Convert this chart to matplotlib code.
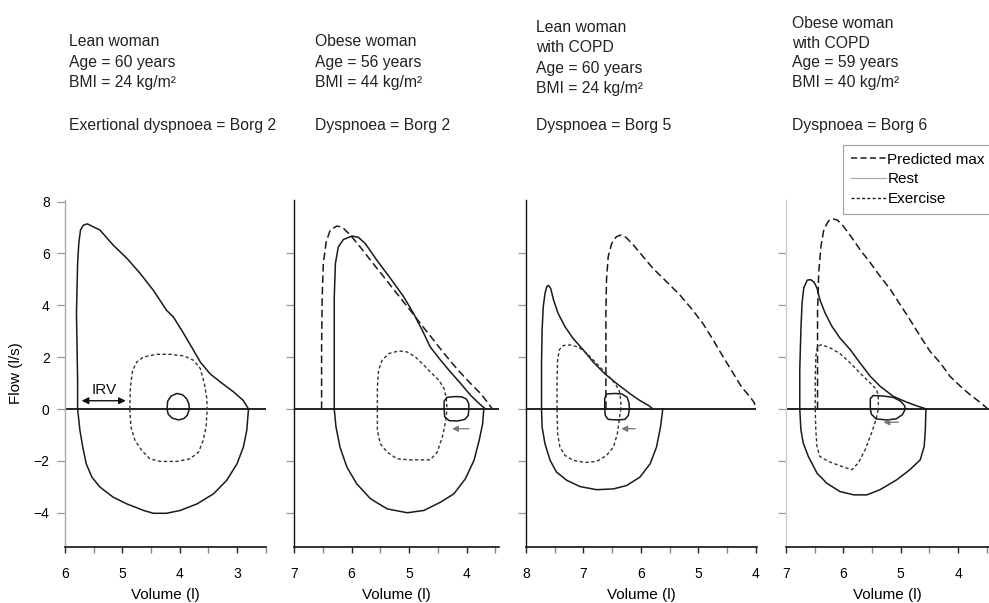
import matplotlib
matplotlib.use('Agg')
import matplotlib.pyplot as plt
from matplotlib.lines import Line2D
import numpy as np

plt.rcParams['font.family'] = ['Liberation Sans', 'DejaVu Sans']

# ---------------- data (volume l, flow l/s) ----------------
# panel 1 - lean woman
p1_max_exp = [(5.78, 0), (5.78, 1.1), (5.80, 3.68), (5.78, 5.61), (5.76, 6.38), (5.73, 6.9), (5.68, 7.09),
              (5.61, 7.14), (5.39, 6.90), (5.16, 6.32), (4.92, 5.81), (4.69, 5.23), (4.46, 4.58), (4.23, 3.81),
              (4.11, 3.55), (3.93, 2.91), (3.76, 2.27), (3.64, 1.81), (3.47, 1.36), (3.29, 1.04), (3.06, 0.66),
              (2.89, 0.33), (2.80, 0)]
p1_max_insp = [(5.78, 0), (5.74, -0.82), (5.69, -1.47), (5.63, -2.11), (5.53, -2.63), (5.39, -3.01),
               (5.16, -3.40), (4.92, -3.66), (4.63, -3.91), (4.46, -4.02), (4.23, -4.02), (3.99, -3.91),
               (3.70, -3.66), (3.41, -3.27), (3.18, -2.75), (3.00, -2.11), (2.89, -1.47), (2.83, -0.82), (2.80, 0)]
p1_ex_exp = [(4.87, 0), (4.86, 0.85), (4.82, 1.49), (4.75, 1.81), (4.63, 2.01), (4.40, 2.11), (4.17, 2.11),
             (3.93, 2.05), (3.76, 1.88), (3.64, 1.56), (3.57, 0.98), (3.53, 0.46), (3.52, 0)]
p1_ex_insp = [(4.87, 0), (4.85, -0.69), (4.78, -1.21), (4.66, -1.60), (4.52, -1.92), (4.34, -2.02),
              (4.05, -2.02), (3.82, -1.92), (3.67, -1.66), (3.59, -1.21), (3.54, -0.69), (3.52, 0)]
p1_rest_exp = [(4.22, 0), (4.21, 0.3), (4.15, 0.5), (4.05, 0.6), (3.95, 0.55), (3.88, 0.4), (3.84, 0.2), (3.83, 0)]
p1_rest_insp = [(4.22, 0), (4.20, -0.2), (4.13, -0.35), (4.02, -0.42), (3.93, -0.37), (3.87, -0.25), (3.83, 0)]

# panel 2 - obese woman
p2_pred = [(6.52, 0), (6.52, 2.39), (6.51, 4.32), (6.49, 5.61), (6.44, 6.45), (6.37, 6.90), (6.26, 7.05),
           (6.17, 7.03), (6.02, 6.71), (5.85, 6.25), (5.67, 5.74), (5.44, 5.10), (5.21, 4.45), (4.98, 3.81),
           (4.80, 3.29), (4.57, 2.65), (4.39, 2.14), (4.22, 1.69), (4.04, 1.24), (3.87, 0.85), (3.75, 0.59),
           (3.64, 0.27), (3.55, 0)]
p2_max_exp = [(6.30, 0), (6.30, 2.39), (6.30, 4.32), (6.28, 5.61), (6.23, 6.25), (6.14, 6.54), (5.99, 6.67),
              (5.88, 6.62), (5.76, 6.38), (5.56, 5.74), (5.32, 5.03), (5.09, 4.32), (4.92, 3.68), (4.77, 3.04),
              (4.63, 2.39), (4.45, 1.88), (4.28, 1.43), (4.10, 0.98), (3.93, 0.53), (3.78, 0.21), (3.67, 0)]
p2_max_insp = [(6.30, 0), (6.27, -0.69), (6.20, -1.47), (6.08, -2.24), (5.91, -2.88), (5.67, -3.46),
               (5.38, -3.85), (5.03, -4.00), (4.74, -3.91), (4.45, -3.59), (4.22, -3.27), (4.02, -2.69),
               (3.87, -1.98), (3.78, -1.21), (3.72, -0.57), (3.70, 0)]
p2_ex_exp = [(5.55, 0), (5.55, 0.85), (5.53, 1.49), (5.47, 1.88), (5.35, 2.14), (5.18, 2.24), (5.03, 2.20),
             (4.89, 2.01), (4.74, 1.69), (4.63, 1.43), (4.48, 1.11), (4.39, 0.79), (4.35, 0.40), (4.34, 0)]
p2_ex_insp = [(5.55, 0), (5.55, -0.82), (5.50, -1.34), (5.38, -1.66), (5.21, -1.92), (4.98, -1.96),
              (4.63, -1.96), (4.51, -1.66), (4.42, -1.08), (4.36, -0.44), (4.34, 0)]
p2_rest_exp = [(4.39, 0), (4.39, 0.3), (4.34, 0.45), (4.20, 0.48), (4.08, 0.47), (4.00, 0.38), (3.96, 0.2), (3.96, 0)]
p2_rest_insp = [(4.39, 0), (4.38, -0.3), (4.30, -0.45), (4.15, -0.46), (4.03, -0.40), (3.97, -0.25), (3.96, 0)]

# panel 3 - lean woman with COPD
p3_pred = [(6.61, 0), (6.61, 1.75), (6.61, 3.68), (6.60, 4.97), (6.57, 5.87), (6.51, 6.38), (6.43, 6.64),
           (6.35, 6.71), (6.26, 6.62), (6.13, 6.32), (5.96, 5.87), (5.79, 5.42), (5.55, 4.90), (5.32, 4.39),
           (5.12, 3.87), (4.92, 3.29), (4.74, 2.65), (4.57, 2.01), (4.39, 1.36), (4.25, 0.85), (4.10, 0.46),
           (4.03, 0.25), (4.00, 0)]
p3_max_exp = [(7.73, 0), (7.73, 1.75), (7.72, 3.04), (7.70, 3.94), (7.67, 4.45), (7.64, 4.71), (7.61, 4.77),
              (7.57, 4.65), (7.52, 4.20), (7.44, 3.68), (7.32, 3.17), (7.18, 2.72), (7.00, 2.27), (6.83, 1.81),
              (6.63, 1.36), (6.42, 0.98), (6.19, 0.59), (6.02, 0.33), (5.87, 0.14), (5.79, 0)]
p3_max_insp = [(7.73, 0), (7.72, -0.69), (7.67, -1.34), (7.58, -1.98), (7.47, -2.43), (7.29, -2.75),
               (7.06, -2.99), (6.77, -3.11), (6.48, -3.08), (6.25, -2.95), (6.02, -2.63), (5.84, -2.11),
               (5.73, -1.47), (5.66, -0.69), (5.62, 0)]
p3_ex_exp = [(7.46, 0), (7.46, 1.11), (7.45, 1.88), (7.42, 2.29), (7.35, 2.45), (7.23, 2.47), (7.09, 2.39),
             (6.94, 2.14), (6.77, 1.75), (6.60, 1.36), (6.45, 0.98), (6.38, 0.72), (6.35, 0.33), (6.35, 0)]
p3_ex_insp = [(7.46, 0), (7.45, -0.95), (7.41, -1.47), (7.32, -1.79), (7.18, -1.98), (6.97, -2.06),
              (6.77, -2.02), (6.60, -1.79), (6.48, -1.47), (6.41, -0.95), (6.38, -0.44), (6.35, 0)]
p3_rest_exp = [(6.63, 0), (6.63, 0.4), (6.60, 0.58), (6.45, 0.60), (6.33, 0.58), (6.24, 0.45), (6.21, 0.25), (6.20, 0)]
p3_rest_insp = [(6.63, 0), (6.62, -0.25), (6.57, -0.40), (6.42, -0.42), (6.28, -0.40), (6.22, -0.25), (6.20, 0)]

# panel 4 - obese woman with COPD
p4_pred = [(6.45, 0), (6.45, 1.78), (6.45, 3.71), (6.43, 5.25), (6.39, 6.28), (6.34, 6.92), (6.26, 7.25),
           (6.19, 7.34), (6.10, 7.28), (6.00, 7.05), (5.85, 6.60), (5.71, 6.15), (5.53, 5.64), (5.36, 5.12),
           (5.18, 4.61), (5.01, 4.03), (4.84, 3.45), (4.66, 2.81), (4.49, 2.23), (4.31, 1.78), (4.14, 1.26),
           (3.96, 0.88), (3.79, 0.55), (3.64, 0.30), (3.53, 0.10), (3.48, 0)]
p4_max_exp = [(6.76, 0), (6.76, 1.52), (6.74, 3.06), (6.72, 4.09), (6.69, 4.67), (6.63, 4.97), (6.57, 4.99),
              (6.51, 4.89), (6.46, 4.67), (6.41, 4.22), (6.32, 3.71), (6.20, 3.19), (6.06, 2.74), (5.88, 2.29),
              (5.71, 1.78), (5.53, 1.26), (5.36, 0.88), (5.13, 0.49), (4.89, 0.26), (4.69, 0.10), (4.55, 0)]
p4_max_insp = [(6.76, 0), (6.74, -0.80), (6.70, -1.31), (6.61, -1.83), (6.46, -2.47), (6.29, -2.86),
               (6.06, -3.18), (5.82, -3.31), (5.59, -3.31), (5.36, -3.11), (5.07, -2.73), (4.84, -2.34),
               (4.66, -1.96), (4.59, -1.44), (4.57, -0.80), (4.56, 0)]
p4_ex_exp = [(6.49, 0), (6.49, 1.13), (6.48, 2.03), (6.45, 2.42), (6.38, 2.48), (6.23, 2.36), (6.06, 2.14),
             (5.88, 1.78), (5.71, 1.39), (5.53, 1.00), (5.42, 0.75), (5.39, 0.49), (5.39, 0)]
p4_ex_insp = [(6.49, 0), (6.48, -0.80), (6.46, -1.44), (6.41, -1.83), (6.26, -2.02), (6.06, -2.19),
              (5.85, -2.34), (5.74, -2.08), (5.62, -1.57), (5.51, -0.93), (5.43, -0.41), (5.39, 0)]
p4_rest_exp = [(5.53, 0), (5.53, 0.40), (5.48, 0.52), (5.30, 0.50), (5.13, 0.45), (5.00, 0.30), (4.93, 0.12), (4.92, 0)]
p4_rest_insp = [(5.53, 0), (5.51, -0.20), (5.43, -0.38), (5.25, -0.42), (5.08, -0.38), (4.97, -0.22), (4.92, 0)]

# arrows (volume from, volume to, flow)
irv_arrow = (5.71, 4.94, 0.32)
eelv_arrows = [None, (3.96, 4.25, -0.76), (6.10, 6.34, -0.76), (5.04, 5.30, -0.51)]

headers = [
    ["Lean woman", "Age = 60 years", "BMI = 24 kg/m²"],
    ["Obese woman", "Age = 56 years", "BMI = 44 kg/m²"],
    ["Lean woman", "with COPD", "Age = 60 years", "BMI = 24 kg/m²"],
    ["Obese woman", "with COPD", "Age = 59 years", "BMI = 40 kg/m²"],
]
dyspnoea = ["Exertional dyspnoea = Borg 2", "Dyspnoea = Borg 2", "Dyspnoea = Borg 5", "Dyspnoea = Borg 6"]
xlims = [(6, 2.5), (7, 3.43), (8, 3.99), (7, 3.46)]
xticks = [[6, 5, 4, 3], [7, 6, 5, 4], [8, 7, 6, 5, 4], [7, 6, 5, 4]]
xminor = [[5.5, 4.5, 3.5, 2.5], [6.5, 5.5, 4.5, 3.5], [7.5, 6.5, 5.5, 4.5], [6.5, 5.5, 4.5, 3.5]]

panels = [
    (None, p1_max_exp, p1_max_insp, p1_ex_exp, p1_ex_insp, p1_rest_exp, p1_rest_insp),
    (p2_pred, p2_max_exp, p2_max_insp, p2_ex_exp, p2_ex_insp, p2_rest_exp, p2_rest_insp),
    (p3_pred, p3_max_exp, p3_max_insp, p3_ex_exp, p3_ex_insp, p3_rest_exp, p3_rest_insp),
    (p4_pred, p4_max_exp, p4_max_insp, p4_ex_exp, p4_ex_insp, p4_rest_exp, p4_rest_insp),
]

# ---------------- layout (pixels of a 989x603 image) ----------------
W, H = 989, 603
fig = plt.figure(figsize=(W / 100, H / 100), dpi=100)
ax_px = [(65, 265.7), (294, 499.3), (526, 756.5), (786, 989)]
top_px, bot_px = 200, 547
head_x = [69, 315, 536, 792]
head_top = [42, 42, 28, 23]
spine_col = ['#aaaaaa', '#111111', '#111111', '#cccccc']

LC = '#1a1a1a'
pred_dash = (5, 2.5)
ex_dash = (2.4, 1.8)


def xy(curve):
    a = np.array(curve)
    return a[:, 0], a[:, 1]


axes = []
for i, (l, r) in enumerate(ax_px):
    ax = fig.add_axes([l / W, 1 - bot_px / H, (r - l) / W, (bot_px - top_px) / H])
    axes.append(ax)
    ax.patch.set_alpha(0)
    ax.set_xlim(*xlims[i])
    ax.set_ylim(-5.32, 8.06)
    ax.axhline(0, color='#111111', lw=1.3, zorder=1)

    pred, mexp, minsp, eexp, einsp, rexp, rinsp = panels[i]
    if pred is not None:
        x, y = xy(pred)
        ax.plot(x, y, color=LC, lw=1.1, dashes=pred_dash)
    for c in (mexp, minsp):
        x, y = xy(c)
        ax.plot(x, y, color=LC, lw=1.1)
    for c in (eexp, einsp):
        x, y = xy(c)
        ax.plot(x, y, color='#333333', lw=1.0, dashes=ex_dash)
    for c in (rexp, rinsp):
        x, y = xy(c)
        ax.plot(x, y, color=LC, lw=1.1)

    if eelv_arrows[i] is not None:
        v0, v1, f = eelv_arrows[i]
        ax.annotate('', xy=(v1, f), xytext=(v0, f),
                    arrowprops=dict(arrowstyle='-|>,head_length=0.35,head_width=0.18',
                                    color='#777777', lw=0.9, shrinkA=0, shrinkB=0))

    # spines / ticks
    for s in ('top', 'right'):
        ax.spines[s].set_visible(False)
    ax.spines['left'].set_color(spine_col[i])
    ax.spines['left'].set_linewidth(1.0)
    ax.spines['bottom'].set_color('#111111')
    ax.spines['bottom'].set_linewidth(1.2)

    ax.set_xticks(xticks[i])
    ax.set_xticks(xminor[i], minor=True)
    ax.tick_params(axis='x', which='both', direction='out', length=4.5, width=1.0,
                   pad=10, labelsize=10, color='#222222')
    ax.tick_params(axis='x', which='minor', color='#888888')
    ax.set_xlabel('Volume (l)', fontsize=11)
    ax.xaxis.set_label_coords(0.5, -(588 - bot_px) / (bot_px - top_px))

    if i == 0:
        ax.set_yticks([-4, -2, 0, 2, 4, 6, 8])
        ax.set_yticklabels(['−4', '−2', '0', '2', '4', '6', '8'])
        ax.tick_params(axis='y', direction='out', length=6, width=0.9, pad=5,
                       labelsize=10, color='#999999')
        ax.set_ylabel('Flow (l/s)', fontsize=11)
        ax.yaxis.set_label_coords(-(l - 23) / (r - l), 0.5)
    else:
        ax.set_yticks([-4, -2, 0, 2, 4, 6])
        ax.tick_params(axis='y', direction='out', length=6, width=0.9,
                       labelleft=False, color='#999999')

    # header text
    for k, line in enumerate(headers[i]):
        fig.text(head_x[i] / W, 1 - (head_top[i] + 20 * k) / H, line,
                 fontsize=11.3, va='center', ha='left', color='#222222')
    fig.text(head_x[i] / W, 1 - 125 / H, dyspnoea[i], fontsize=11.3,
             va='center', ha='left', color='#222222')

# IRV arrow in panel 1
v0, v1, f = irv_arrow
axes[0].annotate('', xy=(v1, f), xytext=(v0, f),
                 arrowprops=dict(arrowstyle='<|-|>,head_length=0.4,head_width=0.2',
                                 color='#111111', lw=1.0, shrinkA=0, shrinkB=0))
axes[0].text((v0 + v1) / 2, 0.75, 'IRV', fontsize=11, ha='center', va='center', color='#111111')

# legend
handles = [Line2D([], [], color=LC, lw=1.1, dashes=(4, 2.2)),
           Line2D([], [], color='#aaaaaa', lw=0.9),
           Line2D([], [], color=LC, lw=1.0, dashes=(2.2, 1.6))]
leg = fig.legend(handles, ['Predicted max', 'Rest', 'Exercise'], loc='upper left',
                 bbox_to_anchor=(843 / W, 1 - 145 / H), bbox_transform=fig.transFigure,
                 fontsize=11, frameon=True, fancybox=False, borderaxespad=0,
                 handlelength=2.3, handletextpad=0.1, labelspacing=0.38, borderpad=0.5)
leg.get_frame().set_edgecolor('#888888')
leg.get_frame().set_linewidth(0.8)

fig.savefig('out.png', dpi=100)
